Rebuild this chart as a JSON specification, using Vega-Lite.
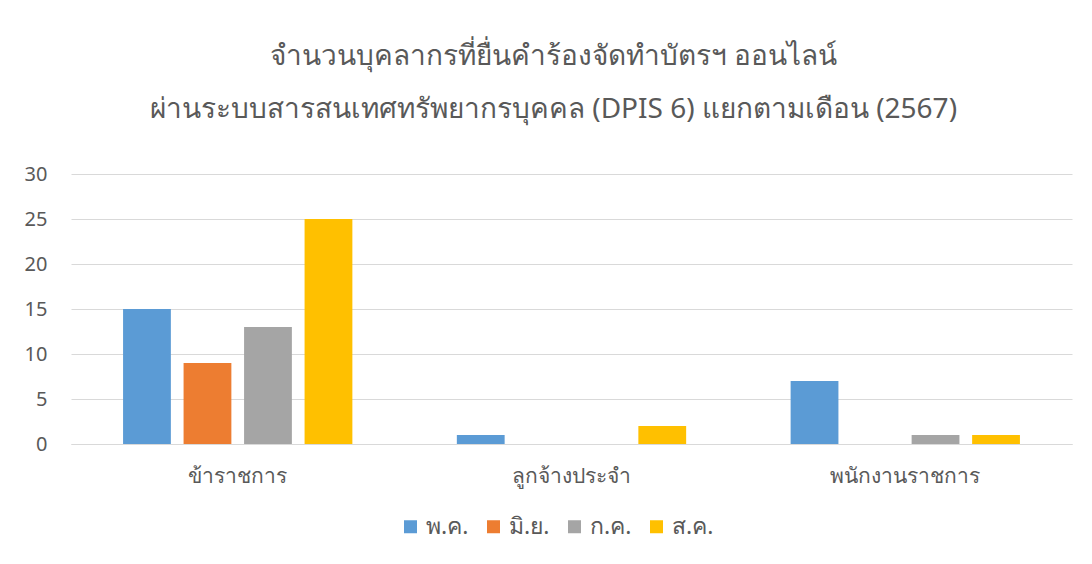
{
  "$schema": "https://vega.github.io/schema/vega-lite/v6.json",
  "autosize": "none",
  "width": 1001,
  "height": 270,
  "padding": {"left": 71, "top": 174, "right": 20, "bottom": 120},
  "background": "white",
  "config": {
    "font": "Noto Sans",
    "view": {"stroke": null}
  },
  "title": {
    "text": ["จำนวนบุคลากรที่ยื่นคำร้องจัดทำบัตรฯ ออนไลน์", "ผ่านระบบสารสนเทศทรัพยากรบุคคล (DPIS 6) แยกตามเดือน (2567)"],
    "fontSize": 28,
    "fontWeight": "normal",
    "color": "#595959",
    "anchor": "middle",
    "lineHeight": 53,
    "offset": 40,
    "dx": -18,
    "font": "Noto Sans"
  },
  "data": {
    "values": [
      {"type": "ข้าราชการ", "month": "พ.ค.", "count": 15},
      {"type": "ข้าราชการ", "month": "มิ.ย.", "count": 9},
      {"type": "ข้าราชการ", "month": "ก.ค.", "count": 13},
      {"type": "ข้าราชการ", "month": "ส.ค.", "count": 25},
      {"type": "ลูกจ้างประจำ", "month": "พ.ค.", "count": 1},
      {"type": "ลูกจ้างประจำ", "month": "มิ.ย.", "count": 0},
      {"type": "ลูกจ้างประจำ", "month": "ก.ค.", "count": 0},
      {"type": "ลูกจ้างประจำ", "month": "ส.ค.", "count": 2},
      {"type": "พนักงานราชการ", "month": "พ.ค.", "count": 7},
      {"type": "พนักงานราชการ", "month": "มิ.ย.", "count": 0},
      {"type": "พนักงานราชการ", "month": "ก.ค.", "count": 1},
      {"type": "พนักงานราชการ", "month": "ส.ค.", "count": 1}
    ]
  },
  "mark": {"type": "bar"},
  "encoding": {
    "x": {
      "field": "type",
      "type": "nominal",
      "sort": ["ข้าราชการ", "ลูกจ้างประจำ", "พนักงานราชการ"],
      "scale": {"paddingInner": 0.313, "paddingOuter": 0.156},
      "axis": {
        "title": null,
        "labelAngle": 0,
        "labelFontSize": 21,
        "labelColor": "#595959",
        "labelPadding": 21,
        "ticks": false,
        "domainColor": "#D9D9D9",
        "labelFont": "Noto Sans"
      }
    },
    "xOffset": {
      "field": "month",
      "type": "nominal",
      "sort": ["พ.ค.", "มิ.ย.", "ก.ค.", "ส.ค."],
      "scale": {"paddingInner": 0.21, "paddingOuter": 0}
    },
    "y": {
      "field": "count",
      "type": "quantitative",
      "scale": {"domain": [0, 30]},
      "axis": {
        "title": null,
        "values": [0, 5, 10, 15, 20, 25, 30],
        "labelFontSize": 20,
        "labelColor": "#595959",
        "labelPadding": 24,
        "ticks": false,
        "domain": false,
        "gridColor": "#D9D9D9",
        "labelFont": "Noto Sans"
      }
    },
    "color": {
      "field": "month",
      "type": "nominal",
      "sort": ["พ.ค.", "มิ.ย.", "ก.ค.", "ส.ค."],
      "scale": {
        "domain": ["พ.ค.", "มิ.ย.", "ก.ค.", "ส.ค."],
        "range": ["#5B9BD5", "#ED7D31", "#A5A5A5", "#FFC000"]
      },
      "legend": {
        "title": null,
        "orient": "none",
        "legendX": 328,
        "legendY": 341,
        "direction": "horizontal",
        "symbolType": "square",
        "symbolSize": 169,
        "symbolStrokeWidth": 0,
        "symbolOffset": 0,
        "labelOffset": 4,
        "labelFontSize": 23,
        "labelColor": "#595959",
        "columnPadding": 13,
        "labelFont": "Noto Sans"
      }
    }
  }
}
